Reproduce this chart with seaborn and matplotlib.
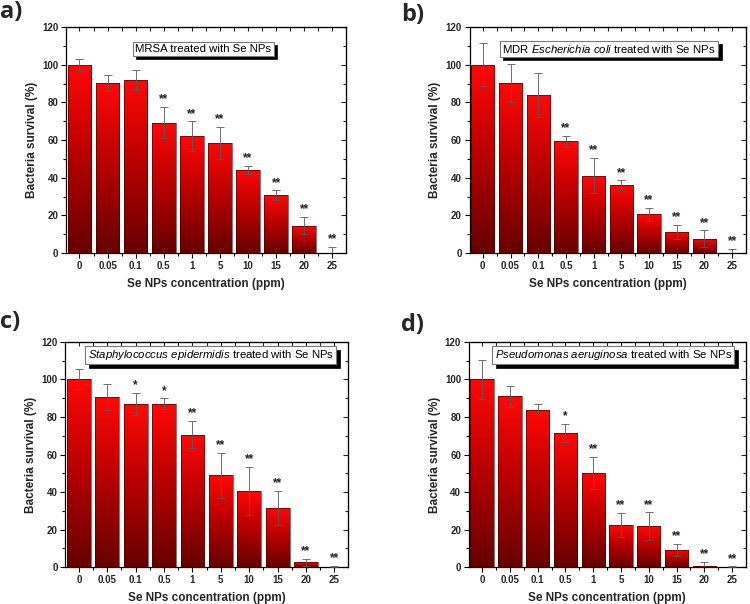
import numpy as np
import pandas as pd
import matplotlib
matplotlib.use("Agg")
import matplotlib.pyplot as plt
import seaborn as sns
from matplotlib.colors import LinearSegmentedColormap
from matplotlib.ticker import MultipleLocator, FixedLocator, NullFormatter
from matplotlib.patches import Rectangle

# ---------------- data ----------------
conc = ["0", "0.05", "0.1", "0.5", "1", "5", "10", "15", "20", "25"]

mrsa_mean = [100, 90.5, 91.8, 69.3, 62.1, 58.6, 44.2, 30.8, 14.6, 0]
mrsa_err = [3.0, 4.3, 5.3, 8.4, 7.9, 8.4, 2.2, 2.6, 4.5, 3.2]
mrsa_sig = ["", "", "", "**", "**", "**", "**", "**", "**", "**"]

ecoli_mean = [100, 90.3, 84.1, 59.4, 41.2, 36.1, 20.7, 11.2, 7.6, 0]
ecoli_err = [11.5, 10.3, 11.7, 2.9, 9.4, 2.5, 3.4, 3.7, 4.4, 2.3]
ecoli_sig = ["", "", "", "**", "**", "**", "**", "**", "**", "**"]

sepi_mean = [100, 90.8, 86.8, 87.1, 70.6, 48.9, 40.7, 31.5, 2.5, 0.3]
sepi_err = [5.3, 7.0, 6.0, 2.9, 7.2, 12.0, 12.9, 9.0, 2.0, 0.3]
sepi_sig = ["", "", "*", "*", "**", "**", "**", "**", "**", "**"]

paer_mean = [100, 91.0, 83.9, 71.5, 50.1, 22.4, 21.7, 9.1, 0.5, 0.2]
paer_err = [10.3, 5.7, 3.1, 5.0, 8.7, 6.5, 7.5, 3.4, 2.2, 0.3]
paer_sig = ["", "", "", "*", "**", "**", "**", "**", "**", "**"]

titles = [
    "MRSA treated with Se NPs",
    r"MDR $\mathit{Escherichia\ coli}$ treated with Se NPs",
    r"$\mathit{Staphylococcus\ epidermidis}$ treated with Se NPs",
    r"$\mathit{Pseudomonas\ aeruginosa}$ treated with Se NPs",
]
letters = ["a)", "b)", "c)", "d)"]

# ---------------- style ----------------
sns.set_style("ticks")
plt.rcParams["font.family"] = ["Liberation Sans", "DejaVu Sans"]
plt.rcParams["mathtext.fontset"] = "custom"
plt.rcParams["mathtext.rm"] = "Liberation Sans"
plt.rcParams["mathtext.it"] = "Liberation Sans:italic"

cmap = LinearSegmentedColormap.from_list("redgrad", ["#660000", "#b50000", "#ff0808"])
grad = np.linspace(0, 1, 256).reshape(-1, 1)

fig = plt.figure(figsize=(7.5, 6.04), dpi=100)

positions = [
    [0.088, 0.581, 0.373, 0.374],
    [0.626, 0.581, 0.368, 0.374],
    [0.087, 0.061, 0.377, 0.373],
    [0.625, 0.061, 0.369, 0.373],
]
title_pos = [(0.49, 0.905), (0.505, 0.905), (0.515, 0.94), (0.522, 0.94)]
letter_pos = [(0.0, 1.0), (0.535, 0.995), (0.0, 0.487), (0.535, 0.481)]

panels = [
    (mrsa_mean, mrsa_err, mrsa_sig),
    (ecoli_mean, ecoli_err, ecoli_sig),
    (sepi_mean, sepi_err, sepi_sig),
    (paer_mean, paer_err, paer_sig),
]

title_texts = []
for i, (mean, err, sig) in enumerate(panels):
    ax = fig.add_axes(positions[i])
    df = pd.DataFrame({"conc": conc, "survival": mean})
    sns.barplot(data=df, x="conc", y="survival", order=conc, width=0.84,
                color="#ff0000", saturation=1, errorbar=None, ax=ax,
                edgecolor="#3a0000", linewidth=0.4)
    centers = []
    for p in list(ax.patches):
        x0, y0 = p.get_x(), p.get_y()
        w, h = p.get_width(), p.get_height()
        centers.append(x0 + w / 2)
        if h <= 0:
            continue
        im = ax.imshow(grad, cmap=cmap, extent=[x0, x0 + w, y0, y0 + h],
                       aspect="auto", origin="lower", zorder=1.5,
                       interpolation="bilinear")
        im.set_clip_path(p)
        p.set_facecolor("none")
        p.set_zorder(1.6)
    ax.errorbar(centers, mean, yerr=err, fmt="none", ecolor="#5a5a5a",
                elinewidth=0.6, capsize=3, capthick=0.6, zorder=3)
    for cx, m, e, s in zip(centers, mean, err, sig):
        if s:
            ax.text(cx, m + e + 0.8, s, ha="center", va="bottom",
                    fontsize=8.5, fontweight="bold", color="#222222", zorder=4)

    ax.set_xlim(-0.48, 9.48)
    ax.set_ylim(0, 120)
    ax.yaxis.set_major_locator(MultipleLocator(20))
    ax.yaxis.set_minor_locator(MultipleLocator(10))
    ax.xaxis.set_minor_locator(FixedLocator(np.arange(-0.5, 10, 1.0)))
    ax.tick_params(axis="both", which="major", direction="out", length=3.5,
                   width=0.8, labelsize=7, pad=2, color="black")
    ax.tick_params(axis="both", which="minor", direction="out", length=2,
                   width=0.8, color="black")
    for lab in ax.get_xticklabels() + ax.get_yticklabels():
        lab.set_fontweight("bold")
    for sp in ax.spines.values():
        sp.set_visible(True)
        sp.set_linewidth(0.9)
        sp.set_color("black")

    secx = ax.secondary_xaxis("top")
    secx.set_xticks(np.arange(10))
    secx.xaxis.set_minor_locator(FixedLocator(np.arange(-0.5, 10, 1.0)))
    secx.tick_params(which="both", direction="in", length=3, width=0.8,
                     labeltop=False)
    secx.xaxis.set_major_formatter(NullFormatter())
    secy = ax.secondary_yaxis("right")
    secy.yaxis.set_major_locator(MultipleLocator(20))
    secy.yaxis.set_minor_locator(MultipleLocator(10))
    secy.tick_params(which="major", direction="in", length=3.5, width=0.8,
                     labelright=False)
    secy.tick_params(which="minor", direction="in", length=2, width=0.8)
    secy.yaxis.set_major_formatter(NullFormatter())

    ax.set_xlabel("Se NPs concentration (ppm)", fontsize=8.5,
                  fontweight="bold", labelpad=5)
    ax.set_ylabel("Bacteria survival (%)", fontsize=8.5, fontweight="bold",
                  labelpad=3)

    tx, ty = title_pos[i]
    t = ax.text(tx, ty, titles[i], transform=ax.transAxes, ha="center",
                va="center", fontsize=8.2, color="black", zorder=10)
    title_texts.append((ax, t))

    lx, ly = letter_pos[i]
    fig.text(lx, ly, letters[i], ha="left", va="top", fontsize=17,
             fontweight="bold", family=["Open Sans", "DejaVu Sans"])

# framed title boxes with black drop shadow
fig.canvas.draw()
renderer = fig.canvas.get_renderer()
pad = 2.5
off = 3.5
for ax, t in title_texts:
    bb = t.get_window_extent(renderer)
    inv = ax.transAxes.inverted()
    (bx0, by0), (bx1, by1) = inv.transform([[bb.x0 - pad, bb.y0 - pad + 0.5],
                                            [bb.x1 + pad, bb.y1 + pad - 0.5]])
    (sx0, sy0), (sx1, sy1) = inv.transform([[bb.x0 - pad + off, bb.y0 - pad + 0.5 - off],
                                            [bb.x1 + pad + off, bb.y1 + pad - 0.5 - off]])
    ax.add_patch(Rectangle((sx0, sy0), sx1 - sx0, sy1 - sy0,
                           transform=ax.transAxes, fc="black", ec="black",
                           lw=0.5, zorder=8, clip_on=False))
    ax.add_patch(Rectangle((bx0, by0), bx1 - bx0, by1 - by0,
                           transform=ax.transAxes, fc="white", ec="#7a7a7a",
                           lw=0.8, zorder=9, clip_on=False))

fig.savefig("out.png", dpi=100, facecolor="white")
